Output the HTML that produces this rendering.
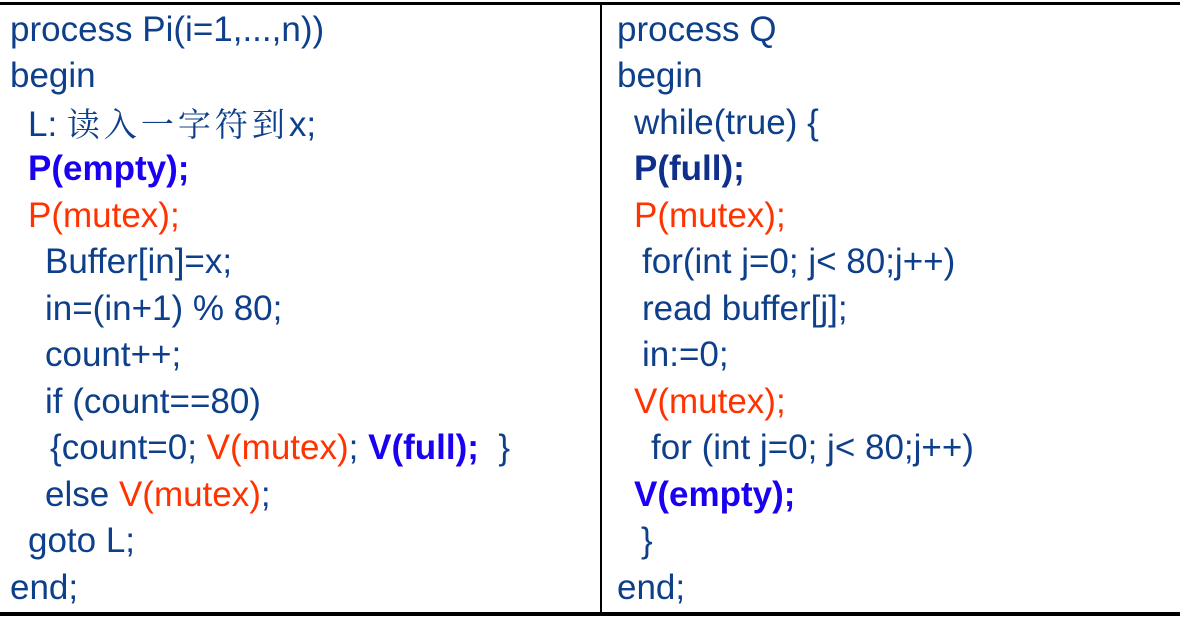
<!DOCTYPE html>
<html><head><meta charset="utf-8"><style>
html,body{margin:0;padding:0;background:#fff;}
#c{position:relative;width:1180px;height:617px;overflow:hidden;font-family:"Liberation Sans","Noto Sans CJK SC",sans-serif;font-size:35px;color:#0e3f8a;letter-spacing:0px;}
.l{position:absolute;white-space:pre;line-height:40px;height:40px;}
.r{color:#ff3300}.b{color:#1a00f0;font-weight:bold}.n{color:#0e2f8a;font-weight:bold}
.cj{font-family:"Noto Serif CJK SC","Noto Sans CJK SC",serif;font-size:33px;letter-spacing:4px;}
</style></head><body><div id="c">
<div style="position:absolute;left:0;top:2px;width:1180px;height:3px;background:#000"></div>
<div style="position:absolute;left:0;top:612px;width:1180px;height:4px;background:#000"></div>
<div style="position:absolute;left:600px;top:2px;width:2px;height:614px;background:#000"></div>

<div class="l" style="left:10px;top:10px">process Pi(i=1,...,n))</div>
<div class="l" style="left:10px;top:56px">begin</div>
<div class="l" style="left:28px;top:103px">L: <span class="cj">读入一字符到</span>x;</div>
<div class="l b" style="left:28px;top:149px">P(empty);</div>
<div class="l r" style="left:28px;top:196px">P(mutex);</div>
<div class="l" style="left:45px;top:242px">Buffer[in]=x;</div>
<div class="l" style="left:45px;top:289px">in=(in+1) % 80;</div>
<div class="l" style="left:45px;top:335px">count++;</div>
<div class="l" style="left:45px;top:382px">if (count==80)</div>
<div class="l" style="left:50px;top:428px">{count=0; <span class="r">V(mutex)</span>; <span class="b">V(full);</span>  }</div>
<div class="l" style="left:45px;top:475px">else <span class="r">V(mutex)</span>;</div>
<div class="l" style="left:28px;top:521px">goto L;</div>
<div class="l" style="left:10px;top:568px">end;</div>

<div class="l" style="left:617px;top:10px">process Q</div>
<div class="l" style="left:617px;top:56px">begin</div>
<div class="l" style="left:634px;top:103px">while(true) {</div>
<div class="l n" style="left:634px;top:149px">P(full);</div>
<div class="l r" style="left:634px;top:196px">P(mutex);</div>
<div class="l" style="left:642px;top:242px">for(int j=0; j&lt; 80;j++)</div>
<div class="l" style="left:642px;top:289px">read buffer[j];</div>
<div class="l" style="left:642px;top:335px">in:=0;</div>
<div class="l r" style="left:634px;top:382px">V(mutex);</div>
<div class="l" style="left:651px;top:428px">for (int j=0; j&lt; 80;j++)</div>
<div class="l b" style="left:634px;top:475px">V(empty);</div>
<div class="l" style="left:641px;top:521px">}</div>
<div class="l" style="left:617px;top:568px">end;</div>
</div></body></html>
